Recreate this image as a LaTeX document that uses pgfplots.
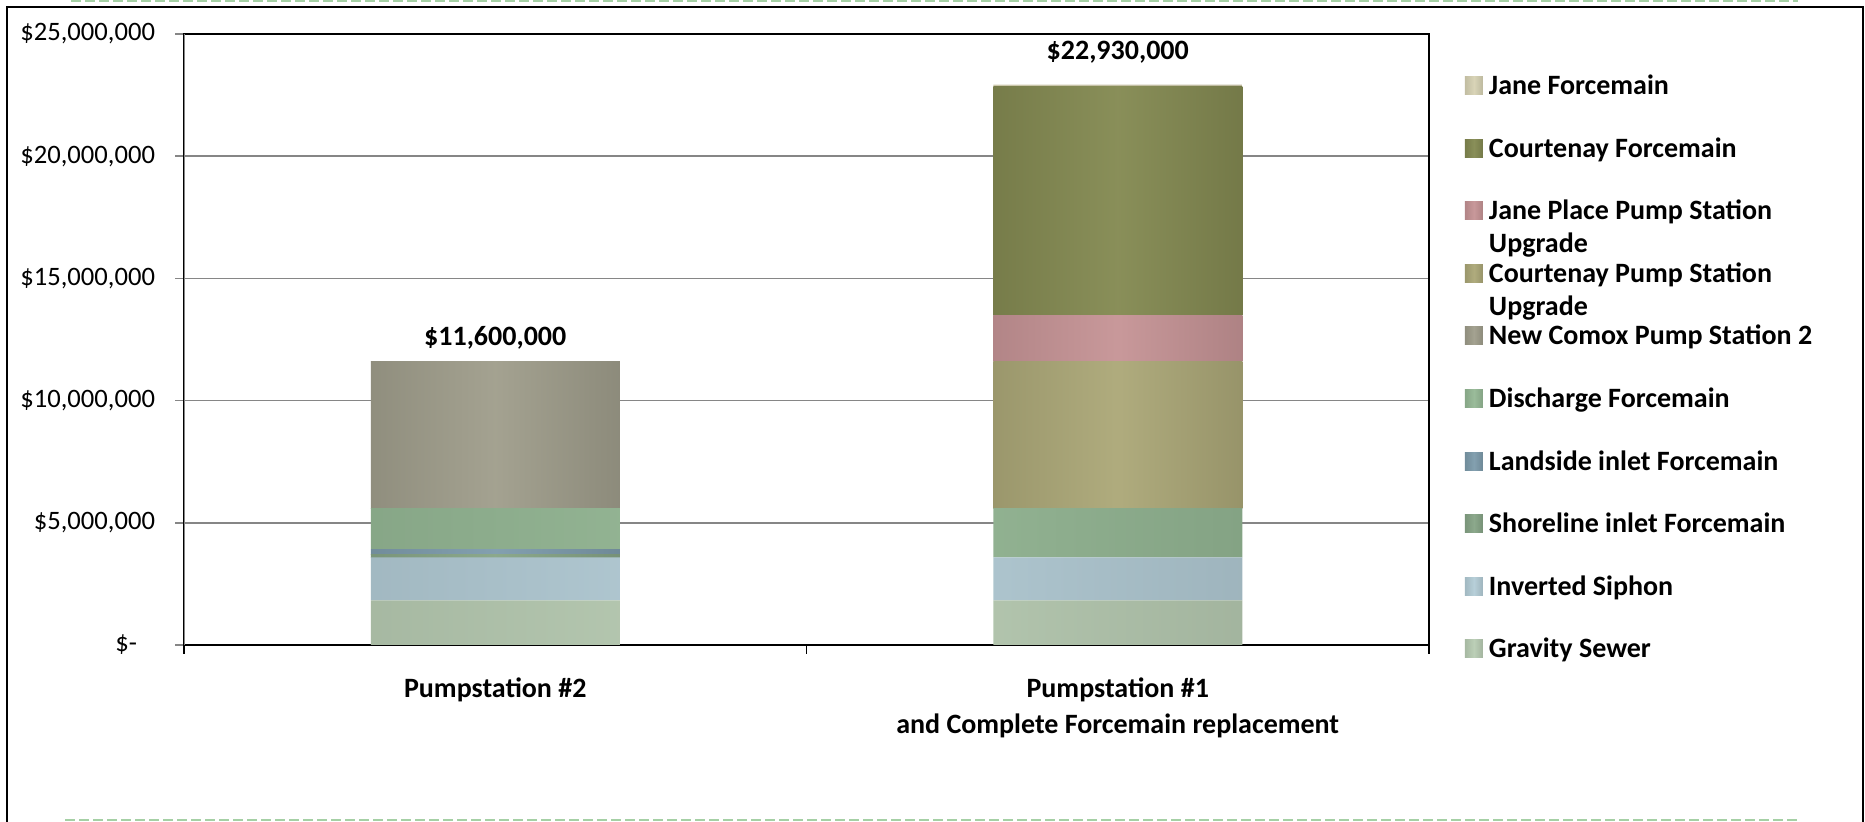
\documentclass[border=0pt]{standalone}
\usepackage{pgfplots}
\pgfplotsset{compat=1.18}
\usepackage{fontspec}
\setmainfont{Carlito}
\definecolor{cGrav}{HTML}{B9CDB4}
\definecolor{cSiph}{HTML}{B4CDD7}
\definecolor{cShore}{HTML}{87A587}
\definecolor{cLand}{HTML}{7E9CAC}
\definecolor{cDisch}{HTML}{96B996}
\definecolor{cComox}{HTML}{A09E8C}
\definecolor{cCourPS}{HTML}{ACA878}
\definecolor{cJanePS}{HTML}{C69496}
\definecolor{cCourFM}{HTML}{848A52}
\definecolor{cJaneFM}{HTML}{D7D2B4}
\definecolor{dashgreen}{RGB}{165,208,165}
\definecolor{gridgray}{RGB}{134,134,134}
\pgfplotsset{
  mybar/.style={draw=none, left color=#1!90!black, right color=#1!88!black, middle color=#1!96!white,
    legend image code/.code={\fill[#1] (0bp,-4.5bp) rectangle (9bp,4.5bp);}},
}
\begin{document}
\begin{tikzpicture}
\path[use as bounding box] (0,0) rectangle (932.5bp,411bp);
\begin{axis}[
  at={(92bp,88.5bp)}, anchor=south west,
  scale only axis, width=622.5bp, height=305.5bp,
  ybar stacked, bar width=0.4,
  xmin=-0.5, xmax=1.5, ymin=0, ymax=25,
  xtick={-0.5,0.5,1.5}, xticklabels={},
  extra x ticks={0,1},
  extra x tick labels={Pumpstation \#2, {Pumpstation \#1\\and Complete Forcemain replacement}},
  extra x tick style={grid=none, major tick length=0pt,
    tick style={draw=none},
    tick label style={align=center, font=\fontsize{14bp}{18bp}\selectfont\bfseries,
      anchor=north, inner sep=0pt, yshift=-16bp}},
  x tick style={black, line width=0.8bp},
  ytick={0,5,...,25},
  yticklabels={{\$-\kern9bp\null}, {\$5,000,000}, {\$10,000,000}, {\$15,000,000}, {\$20,000,000}, {\$25,000,000}},
  yticklabel style={font=\fontsize{13.3bp}{16bp}\selectfont, anchor=east, inner sep=0pt, xshift=-10bp},
  y tick style={gridgray, line width=0.75bp},
  ymajorgrids, grid style={color=gridgray, line width=0.75bp},
  major tick length=4.3bp, tick align=outside, tick pos=left,
  axis line style={black, line width=1bp},
  reverse legend,
  legend style={at={(1.0289,0.9304)}, anchor=north west, draw=none, fill=none,
    inner sep=0pt, outer sep=0pt, row sep=22.3bp, column sep=3bp,
    font=\fontsize{14bp}{16.5bp}\selectfont\bfseries,
    nodes={inner sep=0pt, text height=9bp, text depth=0pt},
    cells={anchor=west}},
]
\addplot[mybar=cGrav] coordinates {(0,1.83) (1,1.83)};
\addlegendentry{Gravity Sewer}
\addplot[mybar=cSiph] coordinates {(0,1.76) (1,1.76)};
\addlegendentry{Inverted Siphon}
\addplot[mybar=cShore] coordinates {(0,0.13) (1,0)};
\addlegendentry{Shoreline inlet Forcemain}
\addplot[mybar=cLand] coordinates {(0,0.20) (1,0)};
\addlegendentry{Landside inlet Forcemain}
\addplot[mybar=cDisch] coordinates {(0,1.68) (1,2.01)};
\addlegendentry{Discharge Forcemain}
\addplot[mybar=cComox] coordinates {(0,6.00) (1,0)};
\addlegendentry{New Comox Pump Station 2}
\addplot[mybar=cCourPS] coordinates {(0,0) (1,6.00)};
\addlegendentry{\smash{\begin{tabular}[t]{@{}l@{}}Courtenay Pump Station\\Upgrade\end{tabular}}}
\addplot[mybar=cJanePS] coordinates {(0,0) (1,1.90)};
\addlegendentry{\smash{\begin{tabular}[t]{@{}l@{}}Jane Place Pump Station\\Upgrade\end{tabular}}}
\addplot[mybar=cCourFM] coordinates {(0,0) (1,9.35)};
\addlegendentry{Courtenay Forcemain}
\addplot[mybar=cJaneFM, point meta=explicit symbolic, nodes near coords,
  every node near coord/.append style={anchor=base, yshift=13bp, inner sep=0pt,
    font=\fontsize{14bp}{16bp}\selectfont\bfseries, text=black}]
  coordinates {(0,0.001) [{\raisebox{-5bp}{\$11,600,000}}] (1,0.08) [{\$22,930,000}]};
\addlegendentry{Jane Forcemain}
\draw[gridgray, line width=1bp] (rel axis cs:0,0) -- (rel axis cs:0,1);
\draw[black, line width=1.3bp] (rel axis cs:0,0) -- (rel axis cs:1,0);
\end{axis}
\draw[black, line width=1bp] (3.5bp,0) -- (3.5bp,407.5bp) -- (931.5bp,407.5bp) -- (931.5bp,0);
\draw[dashgreen, line width=1bp, dash pattern=on 5bp off 2bp] (35.5bp,410.6bp) -- (899bp,410.6bp);
\draw[dashgreen, line width=1bp, dash pattern=on 5bp off 2bp] (32.5bp,1bp) -- (898.5bp,1bp);
\end{tikzpicture}
\end{document}
